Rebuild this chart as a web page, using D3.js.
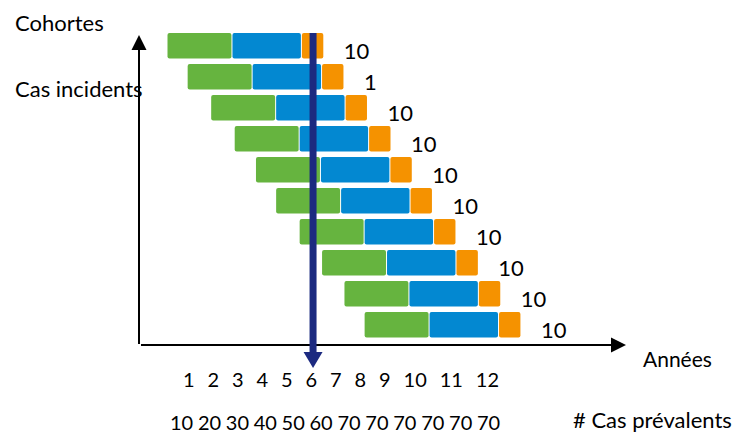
<!DOCTYPE html>
<html>
<head>
<meta charset="utf-8">
<script src="https://cdn.jsdelivr.net/npm/d3@7"></script>
<style>
  html, body { margin: 0; padding: 0; background: #fff; }
  svg text { font-family: Lato, "Open Sans", sans-serif; fill: #000; }
</style>
</head>
<body>
<svg id="chart" width="734" height="434"></svg>
<script>
// ---- data ----
const cohorts = ["C1","C2","C3","C4","C5","C6","C7","C8","C9","C10"];
const cohortStart = [0, 0.9, 1.95, 3.0, 3.95, 4.85, 5.9, 6.9, 7.9, 8.8]; // years
const phaseNames = ["phase1", "phase2", "phase3"];
const phaseDuration = [2.9, 3.1, 1.0]; // years
const cohortLabels = ["10","1","10","10","10","10","10","10","10","10"];
const yearLabels = ["1","2","3","4","5","6","7","8","9","10","11","12"];
const prevalentCases = ["10","20","30","40","50","60","70","70","70","70","70","70"];
const cursorYear = 6.52;

// ---- styles ----
const phaseColors = ["#66b43f", "#0388d1", "#f59200"];
const navy = "#1c2a80";

const svg = d3.select("#chart");

const x = d3.scaleLinear().domain([0, 20]).range([167, 167 + 20 * 22.4]);
const y = d3.scaleBand().domain(cohorts).range([33, 337.5]).paddingInner(0.177).paddingOuter(0);

// axes (arrows)
const axisG = svg.append("g");
axisG.append("line").attr("x1", 139).attr("y1", 344).attr("x2", 139).attr("y2", 48)
  .attr("stroke", "#000").attr("stroke-width", 2);
axisG.append("path").attr("d", "M139,35 L131.5,50 L146.5,50 Z").attr("fill", "#000");
axisG.append("line").attr("x1", 141).attr("y1", 345).attr("x2", 613).attr("y2", 345)
  .attr("stroke", "#000").attr("stroke-width", 2);
axisG.append("path").attr("d", "M626,345 L611,337.5 L611,352.5 Z").attr("fill", "#000");

// bars
const rows = cohorts.map((c, i) => {
  let t = cohortStart[i];
  const segs = phaseDuration.map((d, k) => {
    const s = { start: t, end: t + d, k };
    t += d;
    return s;
  });
  return { c, i, segs, end: t };
});

const rowG = svg.append("g").selectAll("g").data(rows).join("g");
rowG.selectAll("rect").data(d => d.segs.map(s => ({ ...s, c: d.c }))).join("rect")
  .attr("x", d => x(d.start) + 0.5)
  .attr("width", d => x(d.end) - x(d.start) - 1)
  .attr("y", d => y(d.c))
  .attr("height", y.bandwidth())
  .attr("rx", 2)
  .attr("fill", d => phaseColors[d.k]);

rowG.append("text")
  .attr("x", d => x(d.end) + 20)
  .attr("y", d => y(d.c) + y.bandwidth())
  .attr("font-size", 22)
  .text(d => cohortLabels[d.i]);

// cursor line + arrow
const cx = x(cursorYear);
svg.append("line").attr("x1", cx).attr("x2", cx).attr("y1", 33).attr("y2", 354)
  .attr("stroke", navy).attr("stroke-width", 7);
svg.append("path").attr("d", `M${cx},368 L${cx - 9.5},352 L${cx + 9.5},352 Z`).attr("fill", navy);

// axis labels
svg.append("text").attr("x", 15).attr("y", 31).attr("font-size", 22).text("Cohortes");
svg.append("text").attr("x", 15).attr("y", 97).attr("font-size", 22).text("Cas incidents");
svg.append("text").attr("x", 643).attr("y", 367).attr("font-size", 21).text("Années");
svg.append("text").attr("x", 573).attr("y", 428).attr("font-size", 22).text("# Cas prévalents");

// flowing rows of labels (each label its own text element)
function flowRow(labels, x0, baseline, gap, size) {
  const g = svg.append("g");
  let cur = x0;
  labels.forEach(l => {
    const t = g.append("text").attr("x", cur).attr("y", baseline).attr("font-size", size).text(l);
    cur += t.node().getComputedTextLength() + gap;
  });
}
flowRow(yearLabels, 183, 387, 12.9, 20);
flowRow(prevalentCases, 170, 429.5, 4.7, 20);
</script>
</body>
</html>
